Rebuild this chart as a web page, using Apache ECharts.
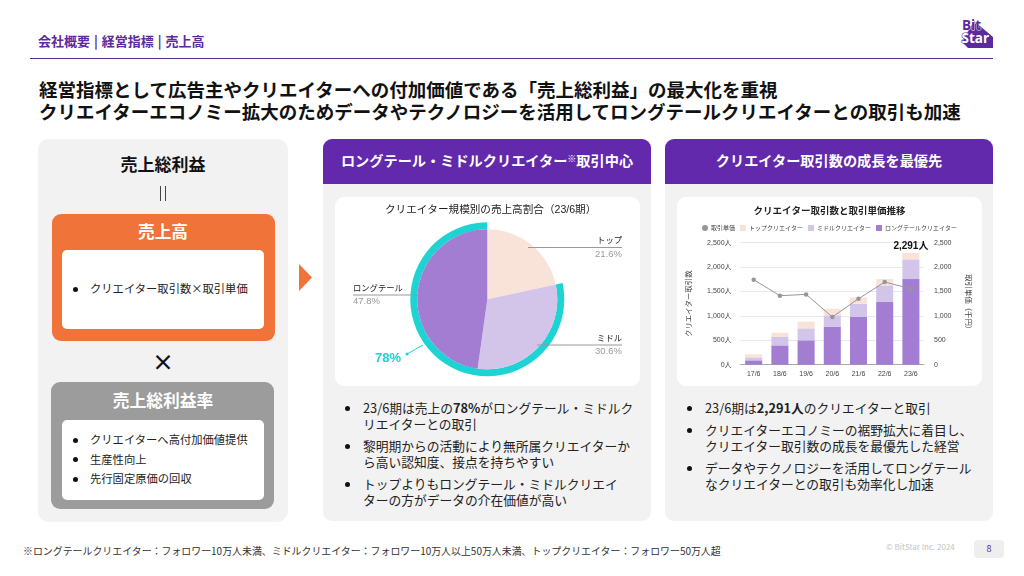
<!DOCTYPE html>
<html lang="ja"><head><meta charset="utf-8">
<script src="https://cdn.jsdelivr.net/npm/echarts@6/dist/echarts.min.js"></script>
<style>
html,body{margin:0;padding:0;background:#fff;width:1024px;height:576px;overflow:hidden;font-family:"Noto Sans CJK JP","Noto Sans",sans-serif;color:#222}
.a{position:absolute;white-space:nowrap;line-height:1.1}
.box{position:absolute}
.c{text-align:center;transform:translate(-50%,-50%)}
.m{transform:translateY(-50%)}
ul{position:absolute;margin:0;padding:0;list-style:none;white-space:nowrap}
li{position:relative}
li:before{content:"";position:absolute;border-radius:50%;background:#111}
.s li{font-size:11.3px;line-height:19.5px;padding-left:17px}
.s li:before{width:5px;height:5px;left:0;top:7.5px}
.b li{font-size:12.75px;line-height:16px;padding-left:18px;margin-bottom:6px}
.b li:before{width:5px;height:5px;left:0;top:5.5px}
.b b{font-weight:700}
.chart{position:absolute;width:305px;height:189px;left:0;top:0}
</style></head><body>
<div class="a m" style="left:38px;top:41px;font-size:13px;font-weight:700;color:#5c2a9d;word-spacing:1px">会社概要 | 経営指標 | 売上高</div>
<div class="box" style="left:30px;top:58px;width:963px;height:1px;background:#5c2a9d"></div>
<svg class="box" style="left:955px;top:14px" width="42" height="38" viewBox="0 0 42 38">
<polygon points="19,7 38,23 38,34 13,34 7,28" fill="#5c2a9d"/>
<text x="7" y="15.5" font-family="Open Sans" font-weight="700" font-size="13.5" fill="#5c2a9d" stroke="#fff" stroke-width="0.8" paint-order="stroke">Bit</text>
<text x="6.5" y="29" font-family="Open Sans" font-weight="700" font-size="13.5" fill="#fff" stroke="#5c2a9d" stroke-width="1.2" paint-order="stroke">Star</text>
</svg>
<div class="a m" style="left:39px;top:89px;font-size:18.5px;font-weight:700;color:#111">経営指標として広告主やクリエイターへの付加価値である「売上総利益」の最大化を重視</div>
<div class="a m" style="left:39px;top:111px;font-size:18.5px;font-weight:700;color:#111">クリエイターエコノミー拡大のためデータやテクノロジーを活用してロングテールクリエイターとの取引も加速</div>

<div class="box" style="left:38px;top:139px;width:250px;height:383px;background:#f2f2f2;border-radius:11px"></div>
<div class="a c" style="left:163px;top:164px;font-size:17px;font-weight:700;color:#111">売上総利益</div>
<div class="box" style="left:160px;top:186px;width:1.2px;height:15px;background:#444"></div>
<div class="box" style="left:165px;top:186px;width:1.2px;height:15px;background:#444"></div>
<div class="box" style="left:52px;top:214px;width:223px;height:127px;background:#f07339;border-radius:9px"></div>
<div class="a c" style="left:163px;top:231px;font-size:16.7px;font-weight:700;color:#fff">売上高</div>
<div class="box" style="left:62px;top:250px;width:202px;height:79px;background:#fff;border-radius:5px"></div>
<ul class="s" style="left:73px;top:279px"><li>クリエイター取引数×取引単価</li></ul>
<div class="a c" style="left:163px;top:360px;font-size:22px;font-weight:700;color:#111">×</div>
<div class="box" style="left:51px;top:382px;width:223px;height:127px;background:#9c9c9c;border-radius:9px"></div>
<div class="a c" style="left:163px;top:400px;font-size:16.8px;font-weight:700;color:#fff">売上総利益率</div>
<div class="box" style="left:62px;top:420px;width:202px;height:80px;background:#fff;border-radius:5px"></div>
<ul class="s" style="left:73px;top:430px"><li>クリエイターへ高付加価値提供</li><li>生産性向上</li><li>先行固定原価の回収</li></ul>
<svg class="box" style="left:298px;top:263px" width="16" height="30"><polygon points="1,1 14,14.5 1,28" fill="#f07339"/></svg>

<div class="box" style="left:323px;top:139px;width:328px;height:382px;background:#f2f2f2;border-radius:9px"></div>
<div class="box" style="left:323px;top:139px;width:328px;height:45px;background:#6329ad;border-radius:9px 9px 0 0"></div>
<div class="a c" style="left:487px;top:160.5px;font-size:14.2px;font-weight:700;color:#fff">ロングテール・ミドルクリエイター<span style="font-size:9px;vertical-align:4px">※</span>取引中心</div>
<div class="box" style="left:335px;top:197px;width:305px;height:189px;background:#fff;border-radius:9px"><div id="pie" class="chart"></div></div>
<ul class="b" style="left:345px;top:400px"><li>23/6期は売上の<b>78%</b>がロングテール・ミドルク<br>リエイターとの取引</li><li>黎明期からの活動により無所属クリエイターか<br>ら高い認知度、接点を持ちやすい</li><li>トップよりもロングテール・ミドルクリエイ<br>ターの方がデータの介在価値が高い</li></ul>

<div class="box" style="left:665px;top:139px;width:328px;height:382px;background:#f2f2f2;border-radius:9px"></div>
<div class="box" style="left:665px;top:139px;width:328px;height:45px;background:#6329ad;border-radius:9px 9px 0 0"></div>
<div class="a c" style="left:829px;top:160.5px;font-size:14.2px;font-weight:700;color:#fff">クリエイター取引数の成長を最優先</div>
<div class="box" style="left:677px;top:197px;width:305px;height:189px;background:#fff;border-radius:9px"><div id="bar" class="chart"></div></div>
<ul class="b" style="left:687px;top:400px"><li>23/6期は<b>2,291人</b>のクリエイターと取引</li><li>クリエイターエコノミーの裾野拡大に着目し、<br>クリエイター取引数の成長を最優先した経営</li><li>データやテクノロジーを活用してロングテール<br>なクリエイターとの取引も効率化し加速</li></ul>

<div class="a m" style="left:23px;top:551px;font-size:9.93px;color:#333">※ロングテールクリエイター：フォロワー10万人未満、ミドルクリエイター：フォロワー10万人以上50万人未満、トップクリエイター：フォロワー50万人超</div>
<div class="a m" style="left:886px;top:547px;font-size:8px;color:#c4c4c4">© BitStar Inc. 2024</div>
<div class="box" style="left:974px;top:540px;width:30px;height:18px;background:#eeeeee;border-radius:4px;text-align:center;font-size:9px;line-height:18px;color:#5c2a9d">8</div>

<script>
const FONT = '"Liberation Sans","Noto Sans CJK JP",sans-serif';
// Pie data
const shareNames = ['トップ', 'ミドル', 'ロングテール'];
const shareValues = [21.6, 30.6, 47.8];
const shareColors = ['#f9e3d8', '#d3c5ea', '#a27dd1'];
const ringValues = [21.6, 78.4];
const ringLabel = '78%';
// Bar data
const periods = ['17/6', '18/6', '19/6', '20/6', '21/6', '22/6', '23/6'];
const longTail = [89, 396, 499, 779, 984, 1284, 1755];
const middle = [61, 171, 246, 232, 266, 342, 403];
const top_ = [62, 89, 136, 136, 130, 129, 133];
const unitPrice = [1742, 1414, 1441, 977, 1352, 1694, 1557];
const totalLabel = '2,291人';

const pie = echarts.init(document.getElementById('pie'), null, {renderer:'canvas'});
const leader = [
  {x:287, y:50.5, align:'right', pts:[[193,50.5],[240,50.5],[287,50.5]]},
  {x:287, y:148, align:'right', pts:[[202,148],[245,148],[287,148]]},
  {x:18, y:98, align:'left', pts:[[83,98],[50,98],[18,98]]}
];
pie.setOption({
  animation:false,
  title:{text:'クリエイター規模別の売上高割合（23/6期）',left:50,top:8,padding:0,
    textStyle:{fontFamily:FONT,fontSize:10.6,fontWeight:'normal',color:'#222'}},
  graphic:[{type:'circle',shape:{cx:72,cy:157,r:1.5},style:{fill:'#1dd3d3'}}],
  series:[
    {type:'pie',center:[152.3,102.3],radius:[70,77],startAngle:90,silent:true,z:1,
     data:ringValues.map((v,i)=>({value:v,name:i?'':'',
       itemStyle:{color:i?'#1dd3d3':'transparent'},
       label:{show:i===1,formatter:ringLabel,color:'#1dd3d3',fontFamily:FONT,fontSize:13,fontWeight:'bold',overflow:'none'},
       labelLine:{show:i===1,lineStyle:{color:'#1dd3d3',width:1}}})),
     labelLayout:()=>({x:53,y:161,align:'center',verticalAlign:'middle',labelLinePoints:[[72,157],[80,152.5],[88,148]]})
    },
    {type:'pie',center:[152.3,102.3],radius:[0,70],startAngle:90,silent:true,z:2,
     data:shareNames.map((n,i)=>({name:n,value:shareValues[i],itemStyle:{color:shareColors[i]}})),
     label:{show:false},labelLine:{show:false}},
    {type:'pie',center:[152.3,102.3],radius:[0,70],startAngle:90,silent:true,z:3,
     data:shareNames.map((n,i)=>({name:n,value:shareValues[i],itemStyle:{color:'transparent'}})),
     label:{overflow:'none',formatter:p=>`{n|${p.name}}\n{p|${p.value}%}`,
       rich:{n:{fontFamily:FONT,fontSize:8.3,color:'#222',lineHeight:13},p:{fontFamily:FONT,fontSize:9.5,color:'#999',lineHeight:13}}},
     labelLine:{show:true,lineStyle:{color:'#999',width:1}},
     labelLayout:p=>{const l=leader[p.dataIndex];return {x:l.x,y:l.y,align:l.align,verticalAlign:'middle',labelLinePoints:l.pts};}
    }
  ]
});

const bar = echarts.init(document.getElementById('bar'), null, {renderer:'canvas'});
const axisText = {fontFamily:FONT,fontSize:7,color:'#444'};
const nameText = {fontFamily:FONT,fontSize:7.4,color:'#444'};
const barSeries = (name,data,color,extra)=>Object.assign({type:'bar',name,data,stack:'t',barWidth:'65%',itemStyle:{color},silent:true},extra||{});
bar.setOption({
  animation:false,
  textStyle:{fontFamily:FONT},
  title:{text:'クリエイター取引数と取引単価推移',left:'center',top:10,padding:0,
    textStyle:{fontFamily:FONT,fontSize:9.5,fontWeight:'bold',color:'#222'}},
  legend:{top:28,left:25,padding:0,itemWidth:6,itemHeight:6,itemGap:5,selectedMode:false,
    textStyle:{fontFamily:FONT,fontSize:6,color:'#444',padding:[0,0,0,-2]},
    data:[{name:'取引単価',icon:'circle'},{name:'トップクリエイター',icon:'rect'},{name:'ミドルクリエイター',icon:'rect'},{name:'ロングテールクリエイター',icon:'rect'}]},
  grid:{left:63.6,right:58,top:45.7,bottom:21.3},
  xAxis:{type:'category',data:periods,axisTick:{show:false},axisLine:{lineStyle:{color:'#aaa'}},axisLabel:Object.assign({margin:6},axisText)},
  yAxis:[
    {type:'value',min:0,max:2500,interval:500,name:'クリエイター取引数',nameLocation:'middle',nameGap:48,nameRotate:90,nameTextStyle:nameText,
     axisLine:{show:false},axisTick:{show:false},splitLine:{lineStyle:{color:'#e8e8e8'}},
     axisLabel:Object.assign({margin:9,formatter:v=>v.toLocaleString('en-US')+'人'},axisText)},
    {type:'value',min:0,max:2500,interval:500,name:'取引単価（千円）',nameLocation:'middle',nameGap:40,nameRotate:-90,nameTextStyle:nameText,
     axisLine:{show:false},axisTick:{show:false},splitLine:{show:false},
     axisLabel:Object.assign({margin:10,formatter:v=>v.toLocaleString('en-US')},axisText)}
  ],
  series:[
    {type:'line',name:'取引単価',data:unitPrice,yAxisIndex:1,z:5,silent:true,symbol:'circle',symbolSize:4.5,
     lineStyle:{color:'#969696',width:1},itemStyle:{color:'#969696'}},
    barSeries('ロングテールクリエイター',longTail,'#a27dd1'),
    barSeries('ミドルクリエイター',middle,'#d3c5ea'),
    barSeries('トップクリエイター',top_,'#f9e3d8',{
      label:{show:true,position:'top',distance:2,fontFamily:FONT,fontSize:10,fontWeight:'bold',color:'#111',
        formatter:p=>p.dataIndex===periods.length-1?totalLabel:''}})
  ]
});
</script>
</body></html>
